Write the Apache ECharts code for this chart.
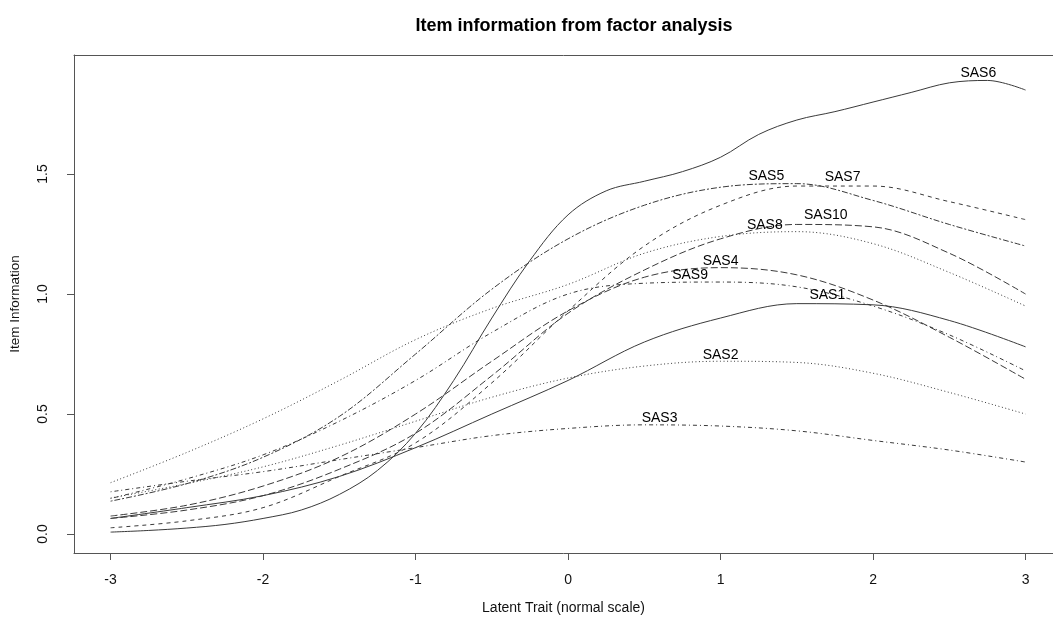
<!DOCTYPE html>
<html>
<head>
<meta charset="utf-8">
<script src="https://cdn.jsdelivr.net/npm/echarts@6/dist/echarts.min.js"></script>
<style>html,body{margin:0;padding:0;background:#fff}#c{width:1053px;height:622px}</style>
</head>
<body>
<div id="c"></div>
<script>
// Grid of trait values (0.5 steps) used for most items
const xs = [-3, -2.5, -2, -1.5, -1, -0.5, 0, 0.5, 1, 1.5, 2, 2.5, 3];
// Finer grid for the steep item SAS6
const xsFine = [-3, -2.75, -2.5, -2.25, -2, -1.75, -1.5, -1.25, -1, -0.75, -0.5, -0.25, 0, 0.25, 0.5, 0.75, 1, 1.25, 1.5, 1.75, 2, 2.25, 2.5, 2.75, 3];

const itemNames = ["SAS1","SAS2","SAS3","SAS4","SAS5","SAS6","SAS7","SAS8","SAS9","SAS10"];

const SAS1  = [0.065, 0.11, 0.16, 0.24, 0.36, 0.50, 0.64, 0.80, 0.90, 0.96, 0.955, 0.89, 0.78];
const SAS2  = [0.15, 0.21, 0.28, 0.37, 0.47, 0.57, 0.65, 0.70, 0.72, 0.715, 0.67, 0.59, 0.50];
const SAS3  = [0.176, 0.22, 0.26, 0.31, 0.36, 0.41, 0.44, 0.455, 0.45, 0.43, 0.39, 0.35, 0.30];
const SAS4  = [0.075, 0.12, 0.20, 0.32, 0.50, 0.72, 0.93, 1.07, 1.11, 1.08, 0.975, 0.82, 0.645];
const SAS5  = [0.137, 0.21, 0.32, 0.49, 0.75, 1.02, 1.23, 1.37, 1.445, 1.46, 1.39, 1.29, 1.20];
const SAS6  = [0.008, 0.015, 0.025, 0.04, 0.065, 0.10, 0.165, 0.265, 0.42, 0.64, 0.90, 1.14, 1.33, 1.43, 1.47, 1.51, 1.57, 1.665, 1.725, 1.76, 1.80, 1.84, 1.88, 1.89, 1.85];
const SAS7  = [0.026, 0.055, 0.11, 0.24, 0.38, 0.63, 0.93, 1.20, 1.37, 1.45, 1.45, 1.385, 1.31];
const SAS8  = [0.214, 0.34, 0.48, 0.64, 0.81, 0.94, 1.04, 1.17, 1.24, 1.26, 1.21, 1.09, 0.95];
const SAS9  = [0.148, 0.23, 0.33, 0.47, 0.64, 0.84, 1.00, 1.045, 1.05, 1.03, 0.95, 0.83, 0.68];
const SAS10 = [0.065, 0.10, 0.16, 0.27, 0.42, 0.66, 0.92, 1.10, 1.23, 1.29, 1.28, 1.17, 1.00];

// Location of each curve's maximum (where the item label sits)
const peakX = [1.7, 1.0, 0.6, 1.0, 1.3, 2.69, 1.8, 1.29, 0.8, 1.69];
const peakY = [0.97, 0.72, 0.457, 1.11, 1.465, 1.895, 1.46, 1.262, 1.05, 1.30];

const xTicks = [-3, -2, -1, 0, 1, 2, 3];
const yTicks = [0, 0.5, 1.0, 1.5];

const itemValues = [SAS1, SAS2, SAS3, SAS4, SAS5, SAS6, SAS7, SAS8, SAS9, SAS10];
const itemX = [xs, xs, xs, xs, xs, xsFine, xs, xs, xs, xs];

const dotted = [1, 2.5];
const dashed = [4, 4];
const dotdash = [1, 3, 4, 3];
const longdash = [7, 3];
const twodash = [2, 2, 6, 2];
const styles = ['solid', dotted, dotdash, longdash, twodash, 'solid', dashed, dotted, dotdash, longdash];

const FONT = '"Liberation Sans", Arial, sans-serif';
const series = [];
itemNames.forEach((nm, i) => {
  const pts = itemX[i].map((x, j) => [x, itemValues[i][j]]);
  series.push({
    name: nm, type: 'line', data: pts, showSymbol: false, smooth: 0.35,
    lineStyle: { color: '#3a3a3a', width: 1, type: styles[i] },
    silent: true, z: 2
  });
});
series.push({
  name: 'labels', type: 'scatter', symbolSize: 1,
  itemStyle: { color: 'rgba(0,0,0,0)' },
  data: itemNames.map((nm, i) => ({ value: [peakX[i], peakY[i]], name: nm })),
  label: { show: true, position: 'top', distance: -1, formatter: p => p.name,
           color: '#000', opacity: 1, fontFamily: FONT, fontSize: 14 },
  labelLayout: { hideOverlap: false },
  silent: true, z: 5
});

const chart = echarts.init(document.getElementById('c'), null, { renderer: 'canvas' });
chart.setOption({
  animation: false,
  backgroundColor: '#ffffff',
  title: {
    text: 'Item information from factor analysis',
    left: 569, top: 12, textAlign: 'center',
    textStyle: { fontFamily: FONT, fontSize: 18, fontWeight: 'bold', color: '#000' }
  },
  grid: { left: 73, top: 55, right: 0, bottom: 69, containLabel: false },
  xAxis: [{
    type: 'value', min: -3.24, max: 3.18, position: 'bottom',
    name: 'Latent Trait (normal scale)', nameLocation: 'middle', nameGap: 48,
    nameTextStyle: { fontFamily: FONT, fontSize: 14, color: '#111' },
    axisLine: { show: true, onZero: false, lineStyle: { color: '#555', width: 1 } },
    axisTick: { show: true, inside: false, length: 7, customValues: xTicks, lineStyle: { color: '#555' } },
    axisLabel: { show: true, customValues: xTicks, margin: 20, fontFamily: FONT, fontSize: 14, color: '#111',
                 formatter: v => String(v) },
    splitLine: { show: false }
  }, {
    type: 'value', min: -3.24, max: 3.18, position: 'top',
    axisLine: { show: true, onZero: false, lineStyle: { color: '#555', width: 1 } },
    axisTick: { show: false }, axisLabel: { show: false }, splitLine: { show: false }
  }],
  yAxis: {
    type: 'value', min: -0.079, max: 1.996,
    name: 'Item Information', nameLocation: 'middle', nameGap: 52, nameRotate: 90,
    nameTextStyle: { fontFamily: FONT, fontSize: 13.5, color: '#111' },
    axisLine: { show: true, onZero: false, lineStyle: { color: '#555', width: 1 } },
    axisTick: { show: true, inside: false, length: 7, customValues: yTicks, lineStyle: { color: '#555' } },
    axisLabel: { show: true, customValues: yTicks, rotate: 90, margin: 24, fontFamily: FONT, fontSize: 14, color: '#111',
                 formatter: v => v.toFixed(1) },
    splitLine: { show: false }
  },
  series: series
});
</script>
</body>
</html>
